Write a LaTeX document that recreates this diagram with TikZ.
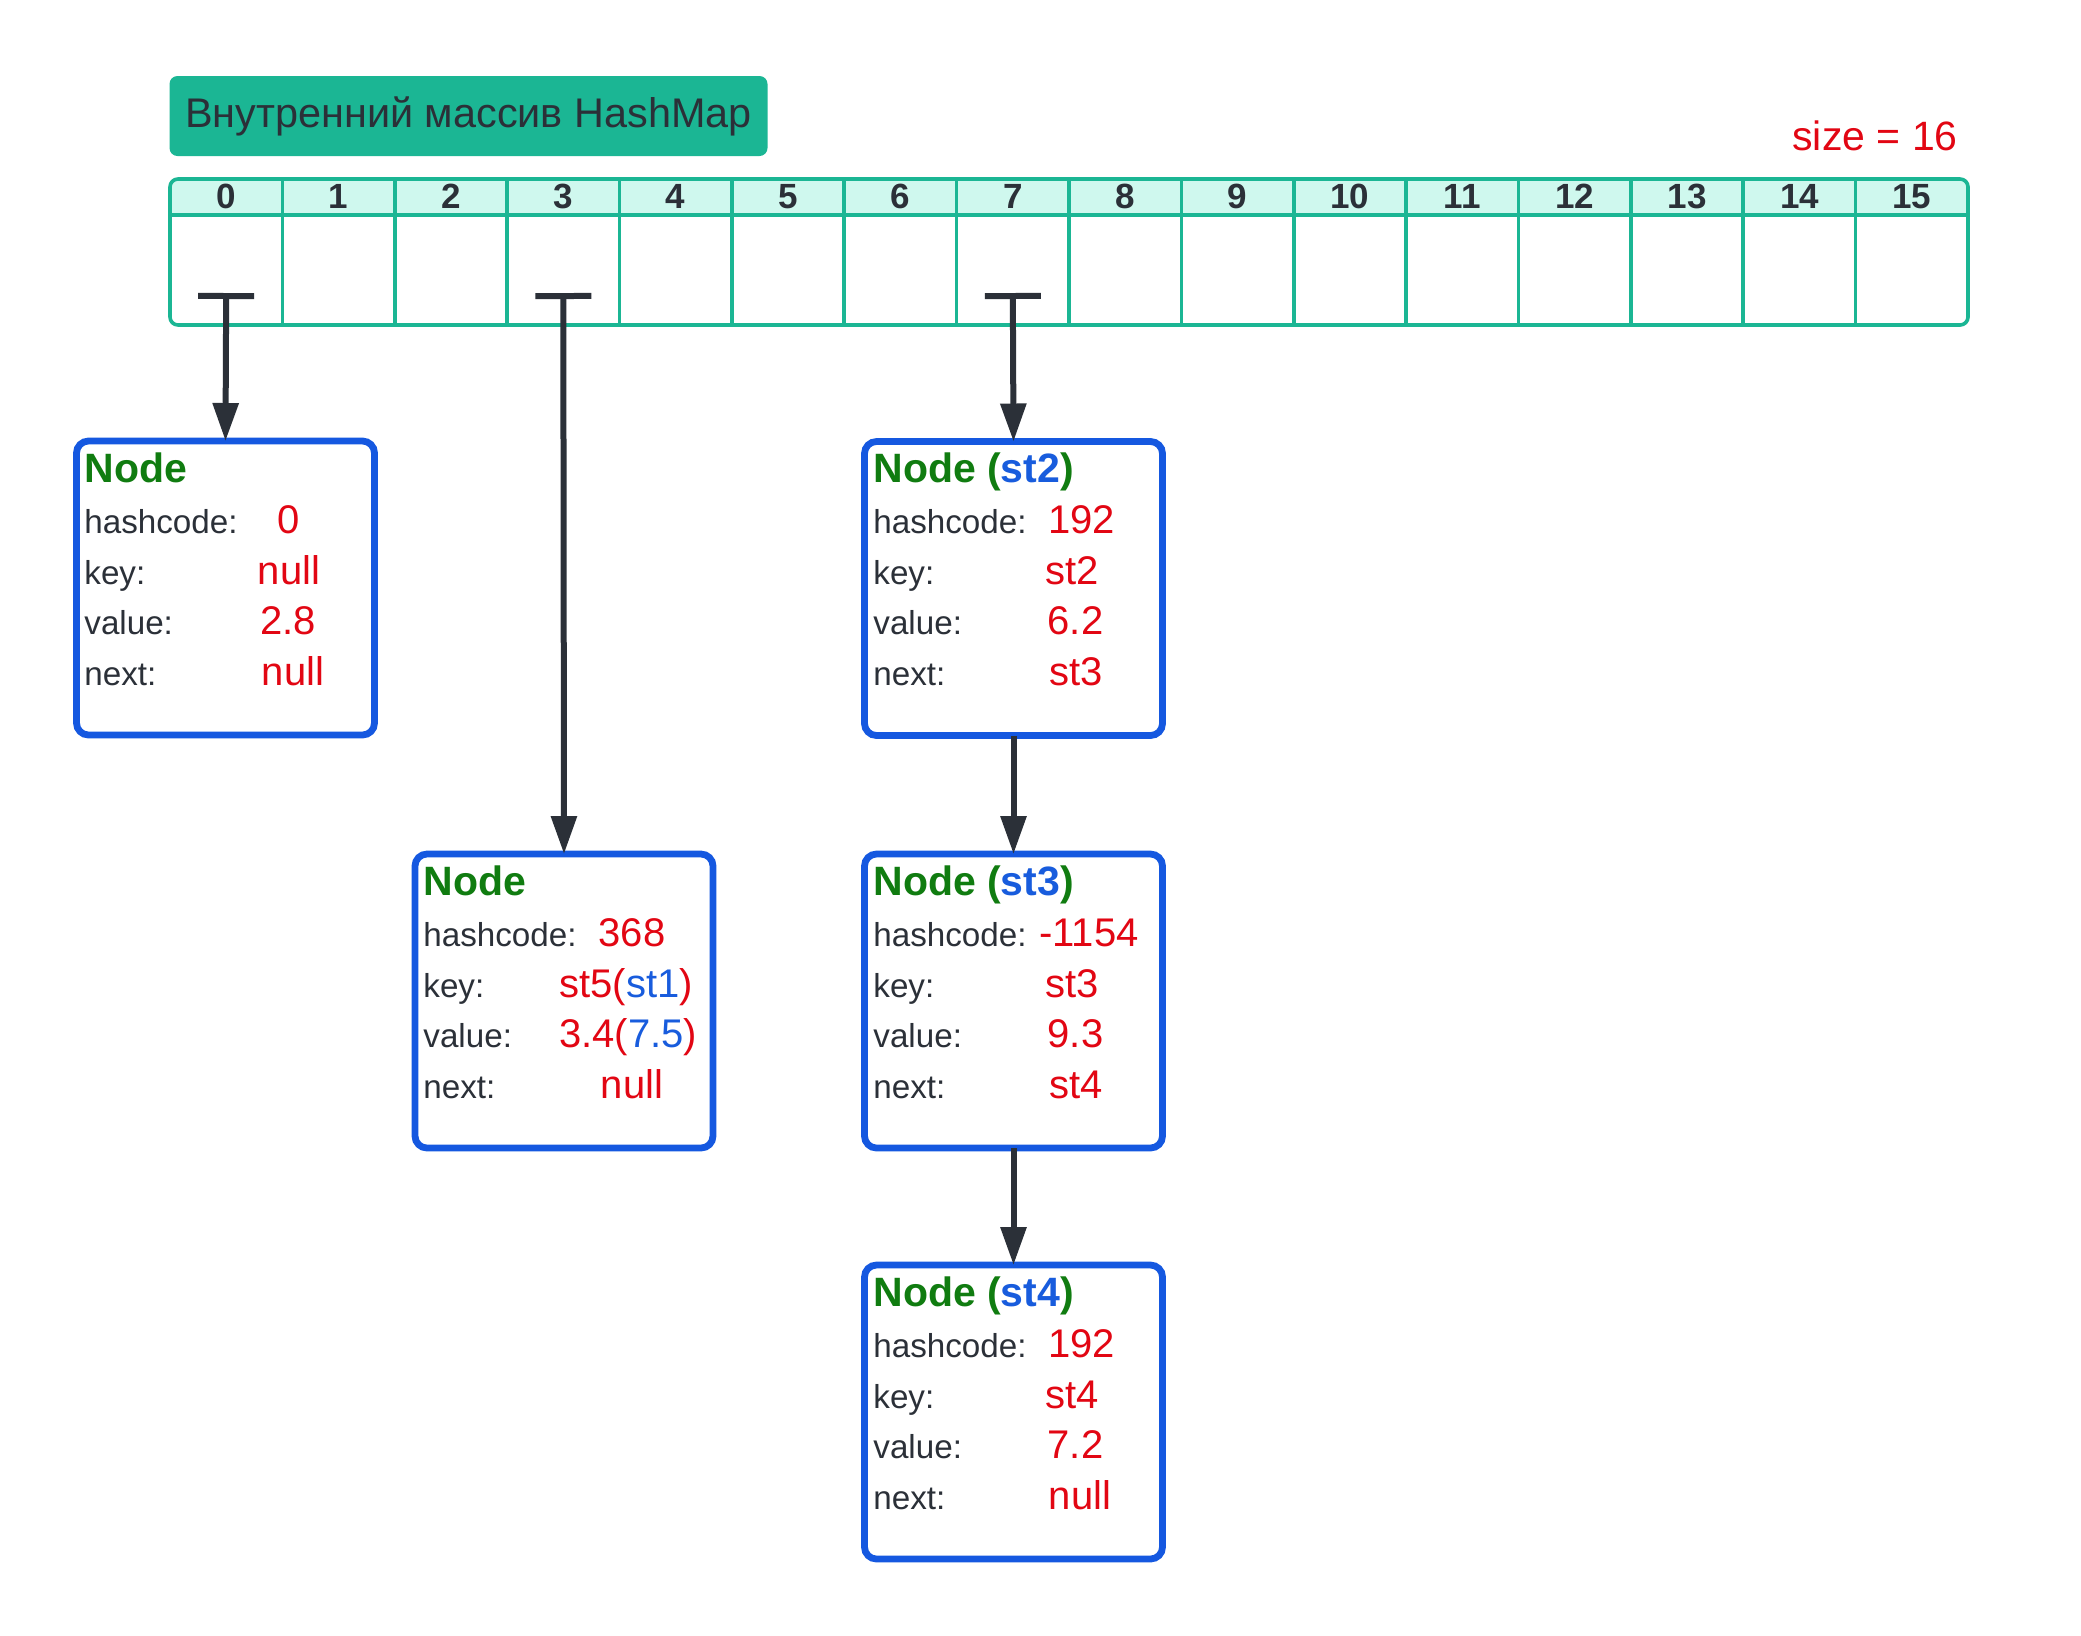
\documentclass[tikz,border=0pt]{standalone}
\usepackage{fontspec}
\setmainfont{Liberation Sans}
\usetikzlibrary{arrows.meta}
\definecolor{teal1}{RGB}{27,182,148}
\definecolor{mint}{RGB}{207,248,238}
\definecolor{dark}{RGB}{43,48,56}
\definecolor{redv}{RGB}{226,6,19}
\definecolor{greent}{RGB}{16,124,16}
\definecolor{bluet}{RGB}{24,92,221}
\definecolor{blueb}{RGB}{21,88,224}
\tikzset{
  recbox/.style={draw=blueb, line width=3.4pt, rounded corners=6pt, fill=white,
    minimum width=149pt, minimum height=147pt, inner sep=0pt, outer sep=0pt},
  lab/.style={anchor=base west, inner sep=0pt, text=dark, font=\fontsize{16.6}{20}\selectfont},
  val/.style={anchor=base, inner sep=0pt, text=redv, font=\fontsize{20}{24}\selectfont},
  ttl/.style={anchor=base west, inner sep=0pt, text=greent, font=\bfseries\fontsize{20.5}{24}\selectfont},
  hdr/.style={anchor=base, inner sep=0pt, text=dark, font=\bfseries\fontsize{17.5}{20}\selectfont},
  link/.style={draw=dark, line width=3pt, -{Triangle[length=19pt,width=12.5pt]}},
  tlink/.style={draw=dark, line width=3pt, {Bar[width=28pt]}-{Triangle[length=19pt,width=12.5pt]}},
}
\newcommand{\reclabels}[3]{%
  \node[lab] (#1-hl) at ({#2+8},{#3+92}) {hashcode:};
  \node[lab] (#1-kl) at ({#2+8},{#3+143}) {key:};
  \node[lab] (#1-vl) at ({#2+8},{#3+193}) {value:};
  \node[lab] (#1-nl) at ({#2+8},{#3+244}) {next:};
}
\begin{document}
\begin{tikzpicture}[x=0.5pt,y=-0.5pt]
\useasboundingbox[fill=white] (0,0) rectangle (2081,1635);

% title
\node[fill=teal1, rounded corners=4pt, minimum width=299pt, minimum height=40pt,
  inner sep=0pt, text=dark, font=\fontsize{20.7}{24}\selectfont] (title) at (468.5,116) {Внутренний массив HashMap};

% size
\node[anchor=base, inner sep=0pt, text=redv, font=\fontsize{20.5}{24}\selectfont] (size) at (1875,150) {size = 16};

% array
\begin{scope}
  \clip[rounded corners=4pt] (170,179) rectangle (1968,325);
  \fill[mint] (170,179) rectangle (1968,215);
\end{scope}
\draw[teal1, line width=1.8pt, rounded corners=4pt] (170,179) rectangle (1968,325);
\draw[teal1, line width=1.8pt] (170,215) -- (1968,215);
\foreach \i in {1,...,15} {
  \draw[teal1, line width=1.8pt] ({170+112.375*\i},179) -- ({170+112.375*\i},325);
}
\foreach \i in {0,...,15} {
  \node[hdr] (h\i) at ({170+112.375*(\i+0.5)},208) {\i};
}
\coordinate (t0) at ({170+112.375*0.5},293);
\coordinate (t3) at ({170+112.375*3.5},293);
\coordinate (t7) at ({170+112.375*7.5},293);

% boxes
\node[recbox] (n0) at (225.5,588) {};
\node[recbox] (n3) at (564,1001) {};
\node[recbox] (s2) at (1013.5,588.5) {};
\node[recbox] (s3) at (1013.5,1001) {};
\node[recbox] (s4) at (1013.5,1412) {};

% box n0
\node[ttl] (n0-t) at (84,482) {Node};
\reclabels{n0}{76}{441}
\node[val] (n0-h) at (289,533) {0};
\node[val] (n0-k) at (289,584) {null};
\node[val] (n0-v) at (288,634) {2.8};
\node[val] (n0-n) at (293,685) {null};

% box n3
\node[ttl] (n3-t) at (423,895) {Node};
\reclabels{n3}{415}{854}
\node[val] (n3-h) at (632,946) {368};
\node[val] (n3-k) at (626,997) {st5(\textcolor{bluet}{st1})};
\node[val] (n3-v) at (628,1047) {3.4(\textcolor{bluet}{7.5})};
\node[val] (n3-n) at (632,1098) {null};

% box s2
\node[ttl] (s2-t) at (873,482) {Node (\textcolor{bluet}{st2})};
\reclabels{s2}{865}{441}
\node[val] (s2-h) at (1081.5,533) {192};
\node[val] (s2-k) at (1072.5,584) {st2};
\node[val] (s2-v) at (1075.5,634) {6.2};
\node[val] (s2-n) at (1076,685) {st3};

% box s3
\node[ttl] (s3-t) at (873,895) {Node (\textcolor{bluet}{st3})};
\reclabels{s3}{865}{854}
\node[val] (s3-h) at (1089,946) {-1154};
\node[val] (s3-k) at (1072.5,997) {st3};
\node[val] (s3-v) at (1075.5,1047) {9.3};
\node[val] (s3-n) at (1076,1098) {st4};

% box s4
\node[ttl] (s4-t) at (873,1306) {Node (\textcolor{bluet}{st4})};
\reclabels{s4}{865}{1265}
\node[val] (s4-h) at (1081.5,1357) {192};
\node[val] (s4-k) at (1072.5,1408) {st4};
\node[val] (s4-v) at (1075.5,1458) {7.2};
\node[val] (s4-n) at (1080,1509) {null};

% connectors
\draw[tlink] (t0) -- (n0.north);
\draw[tlink] (t3) -- (n3.north);
\draw[tlink] (t7) -- (s2.north);
\draw[link] (s2.south) -- (s3.north);
\draw[link] (s3.south) -- (s4.north);
\end{tikzpicture}
\end{document}
